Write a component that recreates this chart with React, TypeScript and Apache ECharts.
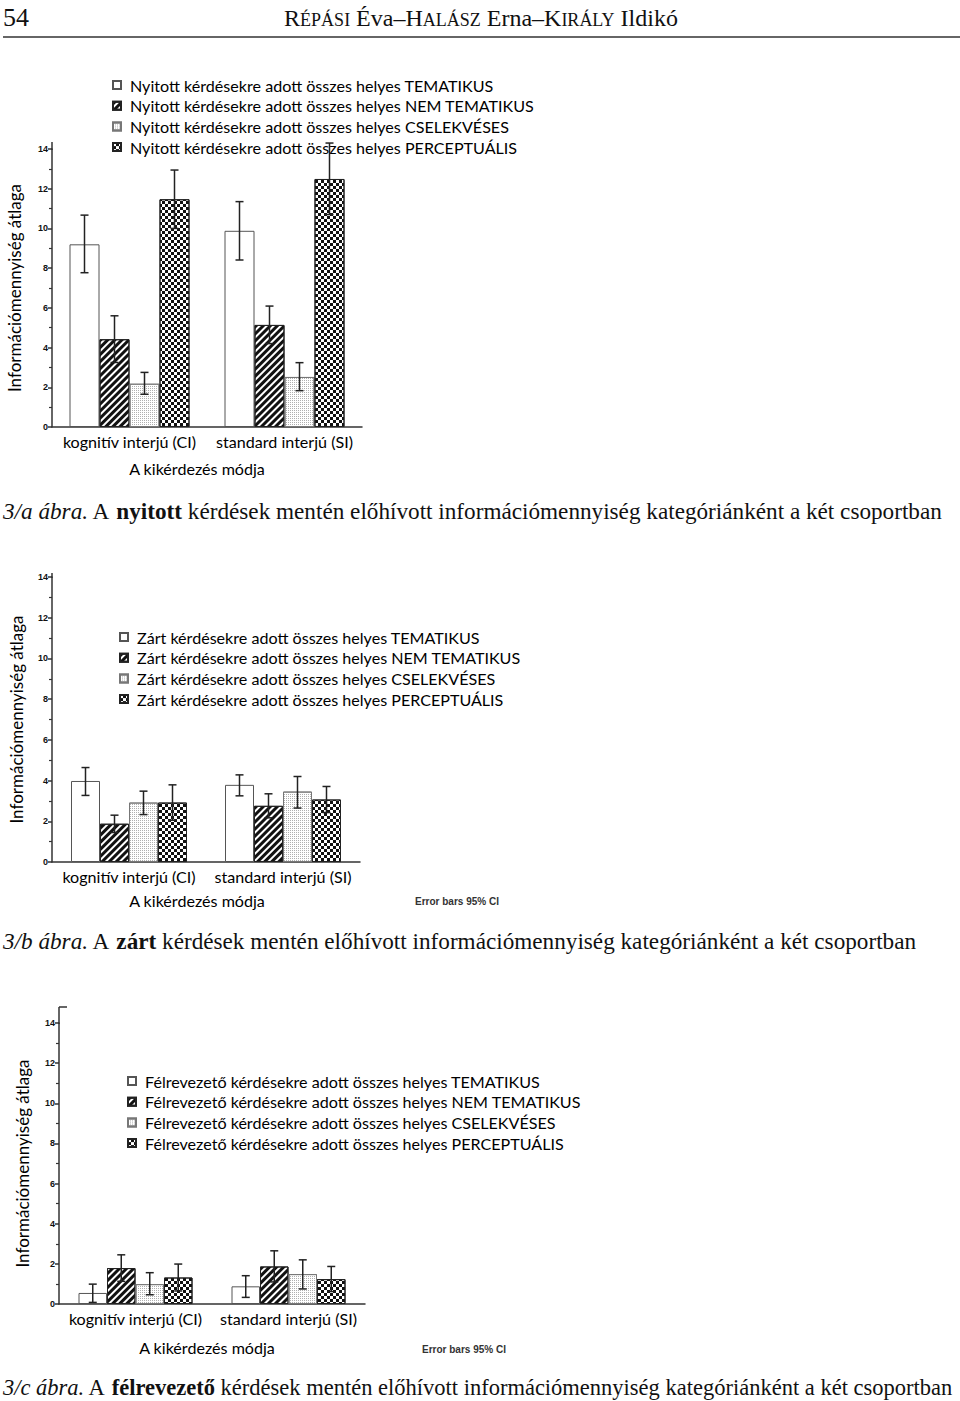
import React, { useEffect, useRef } from 'react';
import * as echarts from 'echarts';

const categories = ['kognitív interjú (CI)', 'standard interjú (SI)'];
const kinds = ['TEMATIKUS', 'NEM TEMATIKUS', 'CSELEKVÉSES', 'PERCEPTUÁLIS'];

const openPrefix = 'Nyitott kérdésekre adott összes helyes ';
const closedPrefix = 'Zárt kérdésekre adott összes helyes ';
const misPrefix = 'Félrevezető kérdésekre adott összes helyes ';

// values per kind: [CI, SI]
const openMean = [[9.2, 9.88], [4.42, 5.14], [2.18, 2.52], [11.47, 12.49]];
const openLow = [[7.77, 8.41], [3.25, 4.2], [1.65, 1.83], [10.0, 10.7]];
const openHigh = [[10.67, 11.35], [5.6, 6.09], [2.75, 3.24], [12.94, 14.3]];

const closedMean = [[3.98, 3.79], [1.88, 2.76], [2.92, 3.46], [2.92, 3.07]];
const closedLow = [[3.27, 3.25], [1.45, 2.17], [2.33, 2.65], [2.05, 2.43]];
const closedHigh = [[4.64, 4.28], [2.3, 3.35], [3.48, 4.2], [3.79, 3.71]];

const misMean = [[0.55, 0.88], [1.79, 1.87], [0.99, 1.49], [1.32, 1.24]];
const misLow = [[0.08, 0.33], [1.13, 1.1], [0.46, 0.75], [0.65, 0.62]];
const misHigh = [[0.99, 1.41], [2.45, 2.65], [1.56, 2.2], [1.99, 1.87]];

const yAxisName = 'Információmennyiség átlaga';
const xAxisName = 'A kikérdezés módja';
const errorNote = 'Error bars 95% CI';

const FONT = 'Lato';
const SERIF = 'Liberation Serif';
const AXIS = '#333';
const TXT = '#000';
const FS = 16.1;

const kindStyles: any[] = [
  { color: '#fff', borderColor: '#555', borderWidth: 1 },
  {
    color: '#fff', borderColor: '#222', borderWidth: 1,
    decal: { symbol: 'rect', symbolSize: 1, color: '#111', dashArrayX: [1, 0], dashArrayY: [3, 2], rotation: -Math.PI / 4 },
  },
  {
    color: '#fff', borderColor: '#777', borderWidth: 1,
    decal: { symbol: 'rect', symbolSize: 1, color: '#b0b0b0', dashArrayX: [1, 1], dashArrayY: [1, 1] },
  },
  {
    color: '#fff', borderColor: '#222', borderWidth: 1,
    decal: { symbol: 'rect', symbolSize: 1, color: '#111', dashArrayX: [[3, 3], [0, 3, 3, 0]], dashArrayY: [3, 0] },
  },
];

const charts = [
  {
    prefix: openPrefix, mean: openMean, low: openLow, high: openHigh,
    grid: { left: 52, top: 149, width: 310, height: 278 }, barWidth: 30,
    legend: { left: 112, top: 77 }, yNameGap: 29, xNameGap: 33, xNamePad: 20, note: null as any, ext: 7,
  },
  {
    prefix: closedPrefix, mean: closedMean, low: closedLow, high: closedHigh,
    grid: { left: 52, top: 577, width: 308, height: 285 }, barWidth: 29,
    legend: { left: 119, top: 629 }, yNameGap: 27, xNameGap: 30, xNamePad: 18, note: { x: 415, y: 901 }, ext: 4,
  },
  {
    prefix: misPrefix, mean: misMean, low: misLow, high: misHigh,
    grid: { left: 59, top: 1023, width: 306, height: 281 }, barWidth: 28.5,
    legend: { left: 127, top: 1073 }, yNameGap: 28, xNameGap: 35, xNamePad: 10, note: { x: 422, y: 1349 }, ext: 16,
  },
];

function buildOption() {
  const grid: any[] = [];
  const xAxis: any[] = [];
  const yAxis: any[] = [];
  const legend: any[] = [];
  const series: any[] = [];
  const graphic: any[] = [];
  const lineStyle = { color: AXIS, width: 1.5 };

  charts.forEach((c, ci) => {
    grid.push({ ...c.grid });
    xAxis.push({
      gridIndex: ci, type: 'category', data: categories,
      axisLine: { lineStyle },
      axisTick: { alignWithLabel: true, length: 4, lineStyle },
      axisLabel: { color: TXT, fontFamily: FONT, fontSize: FS, margin: 6, interval: 0 },
      name: xAxisName, nameLocation: 'middle', nameGap: c.xNameGap,
      nameTextStyle: { color: TXT, fontFamily: FONT, fontSize: FS, padding: [0, c.xNamePad, 0, 0] },
    });
    yAxis.push({
      gridIndex: ci, type: 'value', min: 0, max: 14, interval: 2,
      splitLine: { show: false },
      axisLine: { show: true, lineStyle },
      axisTick: { show: true, length: 4, lineStyle },
      minorTick: { show: true, splitNumber: 2, length: 3, lineStyle: { color: AXIS, width: 1.2 } },
      axisLabel: { color: '#111', fontFamily: 'Liberation Sans', fontWeight: 'bold', fontSize: 9, margin: 4 },
      name: yAxisName, nameLocation: 'middle', nameGap: c.yNameGap,
      nameTextStyle: { color: TXT, fontFamily: FONT, fontSize: 17 },
    });
    const names = kinds.map((k) => c.prefix + k);
    legend.push({
      data: names, orient: 'vertical', left: c.legend.left, top: c.legend.top,
      padding: 0, itemWidth: 8, itemHeight: 8, itemGap: 4.7, icon: 'rect', selectedMode: false,
      textStyle: { color: TXT, fontFamily: FONT, fontSize: FS, lineHeight: 16, padding: [0, 0, 0, 4] },
    });
    kinds.forEach((k, ki) => {
      series.push({
        type: 'bar', name: names[ki], xAxisIndex: ci, yAxisIndex: ci,
        data: c.mean[ki], barWidth: c.barWidth, barGap: '0%',
        itemStyle: kindStyles[ki], silent: true,
      });
    });
    const errData: number[][] = [];
    kinds.forEach((k, ki) => {
      categories.forEach((cat, xi) => {
        errData.push([xi, ki, c.low[ki][xi], c.high[ki][xi]]);
      });
    });
    const bw = c.barWidth;
    series.push({
      type: 'custom', name: 'err' + ci, xAxisIndex: ci, yAxisIndex: ci, data: errData,
      encode: { x: 0, y: [2, 3] }, z: 10, silent: true, clip: false,
      renderItem: (params: any, api: any) => {
        const xi = api.value(0);
        const ki = api.value(1);
        const lo = api.coord([xi, api.value(2)]);
        const hi = api.coord([xi, api.value(3)]);
        const x = lo[0] + (ki - 1.5) * bw;
        const st = { stroke: '#222', lineWidth: 1.5 };
        return {
          type: 'group',
          children: [
            { type: 'line', shape: { x1: x, y1: lo[1], x2: x, y2: hi[1] }, style: st },
            { type: 'line', shape: { x1: x - 4, y1: hi[1], x2: x + 4, y2: hi[1] }, style: st },
            { type: 'line', shape: { x1: x - 4, y1: lo[1], x2: x + 4, y2: lo[1] }, style: st },
          ],
        };
      },
    });
    if (c.note) {
      graphic.push({
        type: 'text', x: c.note.x, y: c.note.y, silent: true,
        style: { text: errorNote, fontFamily: 'Liberation Sans', fontWeight: 'bold', fontSize: 10, fill: '#333', textVerticalAlign: 'middle' },
      });
    }
    // short extension of the value axis line above the top tick
    const gx = c.grid.left;
    const gy = c.grid.top;
    graphic.push({ type: 'line', silent: true, shape: { x1: gx, y1: gy + 1, x2: gx, y2: gy - c.ext }, style: { stroke: AXIS, lineWidth: 1.5 } });
  });

  // small cap at the top of the third chart's axis
  graphic.push({ type: 'line', silent: true, shape: { x1: 59, y1: 1007, x2: 67, y2: 1007 }, style: { stroke: AXIS, lineWidth: 1.5 } });

  // header
  graphic.push({
    type: 'text', x: 3, y: 17, silent: true,
    style: { text: '54', fontFamily: SERIF, fontSize: 26, fill: '#111', textVerticalAlign: 'middle' },
  });
  graphic.push({
    type: 'text', x: 481, y: 17, silent: true,
    style: {
      text: '{big|R}{sc|ÉPÁSI}{big| Éva–H}{sc|ALÁSZ}{big| Erna–K}{sc|IRÁLY}{big| Ildikó}',
      fontFamily: SERIF, fontSize: 24, fill: '#111', textAlign: 'center', textVerticalAlign: 'middle',
      rich: {
        big: { fontFamily: SERIF, fontSize: 24, lineHeight: 26, verticalAlign: 'bottom', fill: '#111' },
        sc: { fontFamily: SERIF, fontSize: 18, lineHeight: 21, verticalAlign: 'bottom', fill: '#111', padding: [0, 0, 1, 0] },
      },
    },
  });
  graphic.push({ type: 'line', silent: true, shape: { x1: 3, y1: 37, x2: 960, y2: 37 }, style: { stroke: '#333', lineWidth: 1.5 } });

  const captions = [
    { y: 511, label: '3/a ábra.', bold: 'nyitott', size: 23.2 },
    { y: 941, label: '3/b ábra.', bold: 'zárt', size: 23.2 },
    { y: 1387, label: '3/c ábra.', bold: 'félrevezető', size: 22.5 },
  ];
  captions.forEach((cap) => {
    const CS = cap.size;
    graphic.push({
      type: 'text', x: 3, y: cap.y, silent: true,
      style: {
        text: `{i|${cap.label}}{n| A }{b|${cap.bold}}{n| kérdések mentén előhívott információmennyiség kategóriánként a két csoportban}`,
        fontFamily: SERIF, fontSize: CS, fill: '#111', textVerticalAlign: 'middle',
        rich: {
          i: { fontFamily: SERIF, fontSize: CS, fontStyle: 'italic', fill: '#111' },
          n: { fontFamily: SERIF, fontSize: CS, fill: '#111' },
          b: { fontFamily: SERIF, fontSize: CS, fontWeight: 'bold', fill: '#111' },
        },
      },
    });
  });

  return {
    animation: false,
    backgroundColor: '#fff',
    grid, xAxis, yAxis, legend, series, graphic,
  };
}

export default function App() {
  const ref = useRef<HTMLDivElement>(null);
  useEffect(() => {
    if (!ref.current) return;
    const chart = echarts.init(ref.current, undefined, { renderer: 'svg' });
    chart.setOption(buildOption() as any);
    return () => chart.dispose();
  }, []);
  return (
    <div
      ref={ref}
      style={{ position: 'absolute', left: 0, top: 0, width: 960, height: 1401, background: '#fff' }}
    />
  );
}
